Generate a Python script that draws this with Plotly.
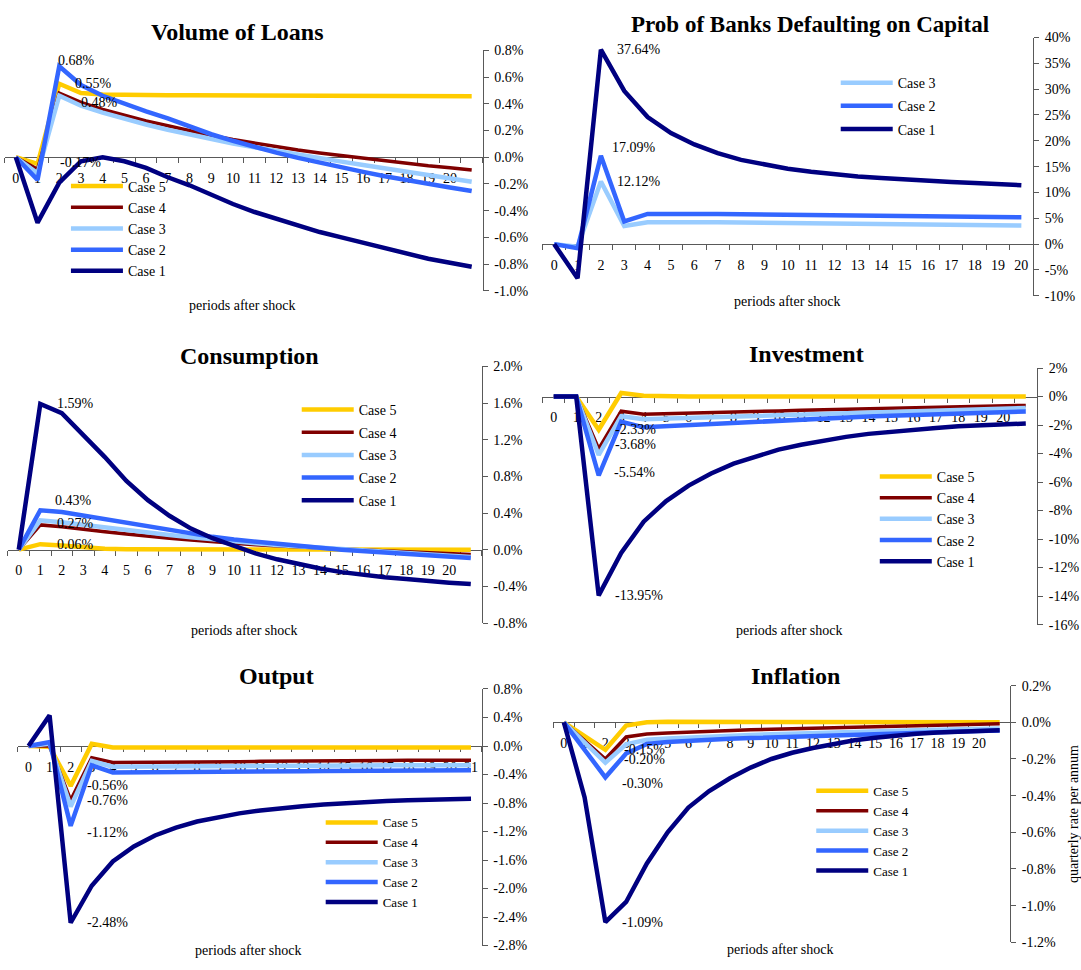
import plotly.graph_objects as go

W, H = 1081, 970
SERIF = "Liberation Serif, Times New Roman, serif"
AXIS_COLOR = "#595959"

CASE_COLORS = {"Case 5": "#FFCC00", "Case 4": "#800000", "Case 3": "#99CCFF",
               "Case 2": "#3366FF", "Case 1": "#000080"}
CASE_WIDTHS = {"Case 5": 4.5, "Case 4": 3.5, "Case 3": 4.5, "Case 2": 4.5, "Case 1": 4.5}
LEGEND_SWATCH = 52

# periods after the shock
periods_0_21 = list(range(22))
periods_0_20 = list(range(21))

# ---- Volume of Loans (% deviation) ----
loans_case5 = [0, -0.05, 0.55, 0.48, 0.47, 0.466, 0.465, 0.464, 0.463, 0.462, 0.461,
               0.460, 0.460, 0.459, 0.459, 0.458, 0.458, 0.457, 0.457, 0.456, 0.456, 0.456]
loans_case4 = [0, -0.09, 0.48, 0.41, 0.358, 0.314, 0.272, 0.235, 0.196, 0.162, 0.132,
               0.105, 0.079, 0.054, 0.032, 0.012, -0.007, -0.027, -0.047, -0.064, -0.079, -0.096]
loans_case3 = [0, -0.12, 0.46, 0.385, 0.334, 0.287, 0.245, 0.206, 0.169, 0.135, 0.103,
               0.074, 0.046, 0.017, -0.008, -0.033, -0.058, -0.083, -0.108, -0.133, -0.158, -0.183]
loans_case2 = [0, -0.17, 0.68, 0.54, 0.46, 0.40, 0.343, 0.29, 0.228, 0.172, 0.123,
               0.076, 0.034, -0.005, -0.042, -0.079, -0.11, -0.142, -0.172, -0.199, -0.226, -0.253]
loans_case1 = [0, -0.49, -0.19, -0.03, 0.0, -0.03, -0.08, -0.15, -0.21, -0.28, -0.35,
               -0.41, -0.46, -0.51, -0.56, -0.60, -0.64, -0.68, -0.72, -0.76, -0.79, -0.82]
loans_yticks = [-1.0, -0.8, -0.6, -0.4, -0.2, 0.0, 0.2, 0.4, 0.6, 0.8]

# ---- Probability of banks defaulting on capital (%) ----
prob_case3 = [0, -0.5, 12.12, 3.5, 4.25, 4.3, 4.3, 4.25, 4.2, 4.15, 4.1,
              4.05, 4.0, 3.95, 3.9, 3.85, 3.8, 3.75, 3.7, 3.65, 3.6]
prob_case2 = [0, -0.8, 17.09, 4.4, 5.85, 5.9, 5.9, 5.85, 5.8, 5.75, 5.7,
              5.65, 5.6, 5.55, 5.5, 5.45, 5.4, 5.35, 5.3, 5.25, 5.2]
prob_case1 = [0, -6.6, 37.64, 29.65, 24.6, 21.5, 19.3, 17.6, 16.3, 15.4, 14.6,
              14.0, 13.5, 13.1, 12.8, 12.5, 12.25, 12.05, 11.85, 11.6, 11.4]
prob_yticks = [-10, -5, 0, 5, 10, 15, 20, 25, 30, 35, 40]

# ---- Consumption (% deviation) ----
cons_case5 = [0, 0.06, 0.045, 0.025, 0.01, 0.005, 0.003, 0.002, 0.001, 0.001, 0.001,
              0.001, 0.001, 0.001, 0.001, 0.001, 0.001, 0.0, 0.0, 0.0, 0.0, 0.0]
cons_case4 = [0, 0.27, 0.25, 0.22, 0.195, 0.17, 0.145, 0.125, 0.105, 0.085, 0.07,
              0.055, 0.04, 0.03, 0.018, 0.008, -0.002, -0.012, -0.022, -0.032, -0.042, -0.052]
cons_case3 = [0, 0.32, 0.30, 0.27, 0.24, 0.21, 0.185, 0.16, 0.135, 0.11, 0.09,
              0.07, 0.05, 0.035, 0.02, 0.005, -0.01, -0.025, -0.04, -0.055, -0.068, -0.08]
cons_case2 = [0, 0.43, 0.41, 0.37, 0.33, 0.29, 0.25, 0.21, 0.175, 0.14, 0.11,
              0.085, 0.06, 0.04, 0.02, 0.0, -0.015, -0.03, -0.045, -0.06, -0.075, -0.09]
cons_case1 = [0, 1.59, 1.49, 1.25, 1.01, 0.75, 0.54, 0.37, 0.23, 0.125, 0.04,
              -0.04, -0.105, -0.16, -0.205, -0.245, -0.275, -0.30, -0.32, -0.345, -0.36, -0.375]
cons_yticks = [-0.8, -0.4, 0.0, 0.4, 0.8, 1.2, 1.6, 2.0]

# ---- Investment (% deviation) ----
inv_case5 = [0, 0, -2.33, 0.25, 0.05, 0.0, 0.0, 0.0, 0.0, 0.0, 0.0,
             0.0, 0.0, 0.0, 0.0, 0.0, 0.0, 0.0, 0.0, 0.0, 0.0, 0.0]
inv_case4 = [0, 0, -3.68, -1.03, -1.24, -1.21, -1.17, -1.13, -1.09, -1.05, -1.01,
             -0.97, -0.94, -0.90, -0.87, -0.83, -0.80, -0.76, -0.73, -0.69, -0.66, -0.62]
inv_case3 = [0, 0, -4.1, -1.38, -1.6, -1.55, -1.5, -1.44, -1.38, -1.33, -1.28,
             -1.23, -1.18, -1.13, -1.09, -1.04, -1.0, -0.96, -0.92, -0.88, -0.84, -0.8]
inv_case2 = [0, 0, -5.54, -1.77, -2.16, -2.08, -1.99, -1.9, -1.81, -1.73, -1.66,
             -1.59, -1.52, -1.46, -1.4, -1.34, -1.29, -1.24, -1.19, -1.14, -1.1, -1.05]
inv_case1 = [0, 0, -13.95, -10.97, -8.78, -7.33, -6.25, -5.4, -4.71, -4.18, -3.72,
             -3.38, -3.08, -2.83, -2.62, -2.46, -2.32, -2.21, -2.09, -2.0, -1.93, -1.89]
inv_yticks = [-16, -14, -12, -10, -8, -6, -4, -2, 0, 2]

# ---- Output (% deviation) ----
out_case5 = [0, -0.01, -0.56, 0.03, -0.02, -0.02, -0.02, -0.02, -0.02, -0.02, -0.02,
             -0.02, -0.02, -0.02, -0.02, -0.02, -0.02, -0.02, -0.02, -0.02, -0.02, -0.02]
out_case4 = [0, 0.0, -0.76, -0.165, -0.23, -0.23, -0.225, -0.225, -0.22, -0.22, -0.22,
             -0.215, -0.215, -0.21, -0.21, -0.21, -0.205, -0.205, -0.2, -0.2, -0.2, -0.2]
out_case3 = [0, 0.03, -0.85, -0.21, -0.29, -0.29, -0.29, -0.285, -0.285, -0.285, -0.28,
             -0.28, -0.28, -0.28, -0.275, -0.275, -0.275, -0.27, -0.27, -0.27, -0.27, -0.27]
out_case2 = [0, 0.055, -1.12, -0.27, -0.37, -0.37, -0.37, -0.365, -0.365, -0.36, -0.36,
             -0.36, -0.355, -0.355, -0.35, -0.35, -0.35, -0.345, -0.345, -0.34, -0.34, -0.34]
out_case1 = [0, 0.43, -2.48, -1.96, -1.62, -1.41, -1.255, -1.145, -1.06, -1.0, -0.945,
             -0.905, -0.87, -0.845, -0.82, -0.8, -0.785, -0.772, -0.762, -0.753, -0.745, -0.74]
out_yticks = [-2.8, -2.4, -2.0, -1.6, -1.2, -0.8, -0.4, 0.0, 0.4, 0.8]

# ---- Inflation (quarterly rate per annum, %) ----
infl_case5 = [0, -0.075, -0.15, -0.018, 0.0, 0.003, 0.003, 0.002, 0.002, 0.002, 0.001,
              0.001, 0.001, 0.001, 0.001, 0.001, 0.0, 0.0, 0.0, 0.0, 0.0, 0.0]
infl_case4 = [0, -0.1, -0.20, -0.08, -0.064, -0.058, -0.053, -0.049, -0.045, -0.041, -0.038,
              -0.035, -0.032, -0.029, -0.026, -0.023, -0.02, -0.017, -0.014, -0.012, -0.01, -0.008]
infl_case3 = [0, -0.11, -0.22, -0.12, -0.095, -0.088, -0.082, -0.077, -0.073, -0.069, -0.065,
              -0.061, -0.058, -0.055, -0.052, -0.049, -0.046, -0.043, -0.04, -0.038, -0.036, -0.034]
infl_case2 = [0, -0.15, -0.30, -0.17, -0.118, -0.107, -0.1, -0.095, -0.09, -0.086, -0.082,
              -0.078, -0.074, -0.07, -0.066, -0.062, -0.058, -0.055, -0.052, -0.049, -0.047, -0.045]
infl_case1 = [0, -0.41, -1.09, -0.98, -0.77, -0.6, -0.465, -0.375, -0.305, -0.247, -0.2,
              -0.166, -0.14, -0.116, -0.098, -0.084, -0.072, -0.063, -0.055, -0.05, -0.046, -0.043]
infl_yticks = [-1.2, -1.0, -0.8, -0.6, -0.4, -0.2, 0.0, 0.2]

X_TITLE = "periods after shock"

# Panel layout in pixels: box = (left, top, right, bottom) of the plotting area,
# legend_pos = (left edge of the legend text, top of the legend block)
panels = [
    dict(title="Volume of Loans", title_size=24, title_center=(237, 25),
         periods=periods_0_21, tick_periods=list(range(21)),
         series=[("Case 5", loans_case5), ("Case 4", loans_case4), ("Case 3", loans_case3),
                 ("Case 2", loans_case2), ("Case 1", loans_case1)],
         yticks=loans_yticks, ydec=1, box=(5, 44, 483, 288.3), xtitle_center=(243, 303),
         legend_pos=(128, 166), legend_font=14, legend_gap=0,
         labels=[("Case 2", 2, -3, 6), ("Case 5", 2, 14, 0), ("Case 4", 2, 20, -9),
                 ("Case 2", 1, 20, 17)]),
    dict(title="Prob of Banks Defaulting on Capital", title_size=23, title_center=(811, 18),
         periods=periods_0_20, tick_periods=list(range(21)),
         series=[("Case 3", prob_case3), ("Case 2", prob_case2), ("Case 1", prob_case1)],
         yticks=prob_yticks, ydec=0, box=(543, 31, 1034, 293.3), xtitle_center=(788, 299),
         legend_pos=(898.5, 61), legend_font=14, legend_gap=2,
         labels=[("Case 1", 2, 14, 0), ("Case 2", 2, 9, 8.5), ("Case 3", 2, 14, 0)]),
    dict(title="Consumption", title_size=24, title_center=(250, 354),
         periods=periods_0_21, tick_periods=list(range(21)),
         series=[("Case 5", cons_case5), ("Case 4", cons_case4), ("Case 3", cons_case3),
                 ("Case 2", cons_case2), ("Case 1", cons_case1)],
         yticks=cons_yticks, ydec=1, box=(8, 365, 482, 625.7), xtitle_center=(245, 633),
         legend_pos=(359, 393), legend_font=14, legend_gap=1.5,
         labels=[("Case 1", 1, 15, 0), ("Case 2", 1, 13, 10), ("Case 4", 1, 15, 1),
                 ("Case 5", 1, 15, 0)]),
    dict(title="Investment", title_size=24, title_center=(807, 352),
         periods=periods_0_21, tick_periods=list(range(21)),
         series=[("Case 5", inv_case5), ("Case 4", inv_case4), ("Case 3", inv_case3),
                 ("Case 2", inv_case2), ("Case 1", inv_case1)],
         yticks=inv_yticks, ydec=0, box=(543, 366.7, 1038, 627.3), xtitle_center=(790, 633),
         legend_pos=(937.6, 461), legend_font=14, legend_gap=0,
         labels=[("Case 5", 2, 14.6, 0), ("Case 4", 2, 14.6, 4), ("Case 2", 2, 13, 2.6),
                 ("Case 1", 2, 14.6, 0)]),
    dict(title="Output", title_size=24, title_center=(277, 680),
         periods=periods_0_21, tick_periods=list(range(22)),
         series=[("Case 5", out_case5), ("Case 4", out_case4), ("Case 3", out_case3),
                 ("Case 2", out_case2), ("Case 1", out_case1)],
         yticks=out_yticks, ydec=1, box=(18, 692.7, 482, 953.3), xtitle_center=(249, 958),
         legend_pos=(383, 813), legend_font=13, legend_gap=0,
         labels=[("Case 5", 2, 14.5, 0), ("Case 4", 2, 14.5, 0), ("Case 2", 2, 14.5, -7),
                 ("Case 1", 2, 14.5, 0)]),
    dict(title="Inflation", title_size=24, title_center=(796, 679),
         periods=periods_0_21, tick_periods=list(range(21)),
         series=[("Case 5", infl_case5), ("Case 4", infl_case4), ("Case 3", infl_case3),
                 ("Case 2", infl_case2), ("Case 1", infl_case1)],
         yticks=infl_yticks, ydec=1, box=(554, 689.3, 1011, 950), xtitle_center=(781, 957),
         legend_pos=(874, 781), legend_font=13, legend_gap=0,
         labels=[("Case 5", 2, 16.6, 0), ("Case 4", 2, 16.6, -1), ("Case 2", 2, 15, -6),
                 ("Case 1", 2, 15, 0)],
         ytitle="quarterly rate per annum"),
]


def fmt_pct(v, dec):
    v = round(v, dec) + 0.0
    return f"{v:.{dec}f}%"


fig = go.Figure()
annotations = []
layout_updates = {}

for i, p in enumerate(panels, start=1):
    sfx = "" if i == 1 else str(i)
    xref, yref = "x" + sfx, "y" + sfx
    legend_name = "legend" + sfx
    left, top, right, bottom = p["box"]
    xdom = [left / W, right / W]
    ydom = [1 - bottom / H, 1 - top / H]
    ymin, ymax = p["yticks"][0], p["yticks"][-1]
    # the category axis crosses the value axis at zero
    zero_pos = ydom[0] + (0 - ymin) / (ymax - ymin) * (ydom[1] - ydom[0])
    n = len(p["periods"])

    for name, values in p["series"]:
        fig.add_trace(go.Scatter(
            x=p["periods"], y=values, mode="lines", name=name,
            line=dict(color=CASE_COLORS[name], width=CASE_WIDTHS[name]),
            xaxis=xref, yaxis=yref, legend=legend_name,
            legendgroup=f"{legend_name}-{name}", hoverinfo="skip"))

    layout_updates["xaxis" + sfx] = dict(
        domain=xdom, anchor="free", position=zero_pos, range=[-0.5, n - 0.5],
        tickmode="array", tickvals=p["tick_periods"],
        ticktext=[str(t) for t in p["tick_periods"]],
        ticks="", ticklen=0, tickangle=0, ticklabelstandoff=8,
        minor=dict(tickmode="array", tickvals=[k - 0.5 for k in range(n + 1)],
                   ticks="outside", ticklen=5, tickwidth=1, tickcolor=AXIS_COLOR,
                   showgrid=False),
        showline=True, linecolor=AXIS_COLOR, linewidth=1,
        showgrid=False, zeroline=False, layer="below traces",
        tickfont=dict(family=SERIF, size=14, color="black"),
    )
    yaxis = dict(
        domain=ydom, anchor=xref, side="right", range=[ymin, ymax],
        tickmode="array", tickvals=p["yticks"],
        ticktext=[fmt_pct(v, p["ydec"]) for v in p["yticks"]],
        ticks="outside", ticklen=5, tickwidth=1, tickcolor=AXIS_COLOR,
        ticklabelstandoff=3,
        showline=True, linecolor=AXIS_COLOR, linewidth=1,
        showgrid=False, zeroline=False, layer="below traces",
        tickfont=dict(family=SERIF, size=14, color="black"),
    )
    if p.get("ytitle"):
        yaxis["title"] = dict(text=p["ytitle"], font=dict(family=SERIF, size=14, color="black"))
    layout_updates["yaxis" + sfx] = yaxis

    text_left, ly = p["legend_pos"]
    layout_updates[legend_name] = dict(
        x=(text_left - LEGEND_SWATCH - 10) / W, y=1 - ly / H, xanchor="left", yanchor="top",
        bgcolor="rgba(0,0,0,0)", borderwidth=0, itemwidth=LEGEND_SWATCH,
        traceorder="grouped", tracegroupgap=p["legend_gap"],
        font=dict(family=SERIF, size=p["legend_font"], color="black"),
    )

    tx, ty = p["title_center"]
    annotations.append(dict(
        text=f"<b>{p['title']}</b>", x=tx / W, y=1 - ty / H, xref="paper", yref="paper",
        xanchor="center", yanchor="middle", showarrow=False,
        font=dict(family=SERIF, size=p["title_size"], color="black")))
    xt, yt = p["xtitle_center"]
    annotations.append(dict(
        text=X_TITLE, x=xt / W, y=1 - yt / H, xref="paper", yref="paper",
        xanchor="center", yanchor="middle", showarrow=False,
        font=dict(family=SERIF, size=14, color="black")))

    values_by_case = dict(p["series"])
    for case, period, dx, dy in p["labels"]:
        v = values_by_case[case][period]
        annotations.append(dict(
            text=fmt_pct(v, 2), x=period, y=v, xref=xref, yref=yref,
            xanchor="left", yanchor="middle", xshift=dx, yshift=dy, showarrow=False,
            font=dict(family=SERIF, size=14, color="black")))

fig.update_layout(
    width=W, height=H, margin=dict(l=0, r=0, t=0, b=0),
    paper_bgcolor="white", plot_bgcolor="white",
    showlegend=True, annotations=annotations,
    font=dict(family=SERIF, size=14, color="black"),
    **layout_updates,
)

fig.write_html("out.html")
